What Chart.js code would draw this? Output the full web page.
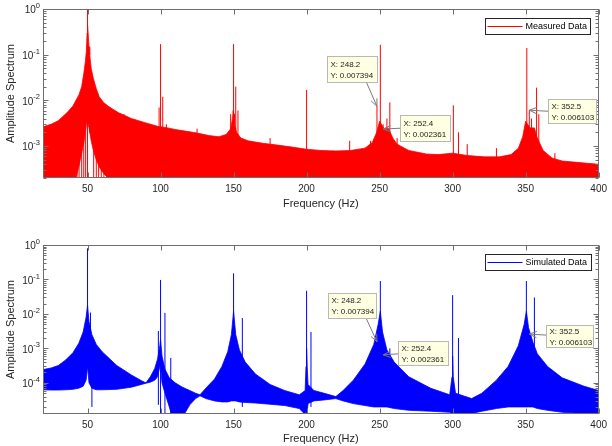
<!DOCTYPE html>
<html>
<head>
<meta charset="utf-8">
<script src="https://cdn.jsdelivr.net/npm/chart.js@4.4.1/dist/chart.umd.min.js"></script>
<style>
  html, body { margin: 0; padding: 0; background: #fff; }
  #wrap { position: relative; width: 612px; height: 446px; }
  canvas { position: absolute; left: 0; }
</style>
</head>
<body>
<div id="wrap">
  <canvas id="measured" width="612" height="223" style="top:0"></canvas>
  <canvas id="simulated" width="612" height="223" style="top:223px"></canvas>
</div>
<script>
/* ---------- axes ---------- */
const xTicks = [50, 100, 150, 200, 250, 300, 350, 400];
const yTicksMeasured = [1e-3, 1e-2, 1e-1, 1];
const yTicksSimulated = [1e-4, 1e-3, 1e-2, 1e-1, 1];

/* ---------- measured data: envelope of the dense spectrum ---------- */
const measFreq = [19, 25, 30, 36, 40, 42, 44, 45, 46, 47.5, 48.5, 49.2, 49.7, 50, 50.4, 51, 51.5, 52.5, 54, 56, 58, 61, 64, 68, 71, 76, 80, 85, 90, 98, 105, 110, 118, 126, 133, 140, 145, 148, 149.3, 149.7, 150.3, 150.7, 152, 155, 160, 170, 180, 190, 200, 210, 220, 230, 240, 245, 248, 250, 253, 256, 259, 262, 270, 282, 290, 300, 310, 322, 332, 340, 345, 348, 350, 353, 356, 358, 362, 368, 375, 385, 392, 400];
const measHigh = [2.6e-3, 3e-3, 3.6e-3, 5.4e-3, 7.5e-3, 1e-2, 1.3e-2, 1.6e-2, 2e-2, 4e-2, 7e-2, 0.12, 0.3, 0.45, 0.3, 0.15, 0.1, 5e-2, 3e-2, 1.8e-2, 1.2e-2, 9e-3, 7.5e-3, 6.2e-3, 5.4e-3, 4.6e-3, 4e-3, 3.6e-3, 3.2e-3, 2.7e-3, 2.5e-3, 2.3e-3, 2.1e-3, 1.9e-3, 1.7e-3, 1.6e-3, 1.8e-3, 2.4e-3, 4e-3, 6e-3, 5e-3, 3e-3, 2e-3, 1.5e-3, 1.3e-3, 1.15e-3, 1.05e-3, 9.5e-4, 8.5e-4, 8e-4, 7.8e-4, 8e-4, 9e-4, 1.2e-3, 2e-3, 3.5e-3, 2.4e-3, 2.5e-3, 1.5e-3, 1.1e-3, 8e-4, 6.7e-4, 6.5e-4, 7e-4, 6.2e-4, 5.8e-4, 5.8e-4, 6.5e-4, 9e-4, 1.6e-3, 3.5e-3, 2.5e-3, 2.5e-3, 1.5e-3, 8e-4, 5.5e-4, 4.7e-4, 4.4e-4, 4.2e-4, 4e-4];
const measLow = [1e-6, 1e-6, 1e-6, 1e-6, 1e-6, 2e-4, 3.5e-4, 5e-4, 7e-4, 1.2e-3, 2e-3, 3e-3, 3.5e-3, 3e-3, 3e-3, 2.5e-3, 2e-3, 1.3e-3, 8e-4, 5e-4, 3.5e-4, 2.5e-4, 2e-4, 1e-6, 1e-6, 1e-6, 1e-6, 1e-6, 1e-6, 1e-6, 1e-6, 1e-6, 1e-6, 1e-6, 1e-6, 1e-6, 1e-6, 1e-6, 1e-6, 1e-6, 1e-6, 1e-6, 1e-6, 1e-6, 1e-6, 1e-6, 1e-6, 1e-6, 1e-6, 1e-6, 1e-6, 1e-6, 1e-6, 1e-6, 1e-6, 1e-6, 1e-6, 1e-6, 1e-6, 1e-6, 1e-6, 1e-6, 1e-6, 1e-6, 1e-6, 1e-6, 1e-6, 1e-6, 1e-6, 1e-6, 1e-6, 1e-6, 1e-6, 1e-6, 1e-6, 1e-6, 1e-6, 1e-6, 1e-6, 1e-6];
// spectral lines; the first twelve are the thin strands that cross the gap under the 50 Hz peak
const measSpikeFreq = [42.8, 44.2, 46, 47.4, 48.7, 54.2, 56, 57.6, 59.4, 61.2, 63.2, 65.7, 50, 75, 99, 100, 101.5, 104, 125, 148, 150, 151.5, 153, 175, 200, 229.5, 243.8, 248.2, 250.5, 252.4, 255, 257, 262, 300.5, 304, 310, 330, 350.8, 352.5, 354, 357.5, 359, 370];
const measSpikeAmp = [2e-3, 2e-3, 2e-3, 3e-3, 3e-3, 2e-3, 2e-3, 2e-3, 2e-3, 2e-3, 2e-3, 2e-3, 1.0, 5e-3, 7e-3, 0.17, 0.012, 3e-3, 2.4e-3, 5e-3, 0.17, 0.02, 6e-3, 1.5e-3, 0.017, 1.3e-3, 1.3e-3, 7.4e-3, 0.165, 3e-3, 4e-3, 9e-3, 1.5e-3, 7.8e-3, 2e-3, 1.1e-3, 9e-4, 0.14, 6.1e-3, 4e-3, 0.019, 5e-3, 7e-4];

/* ---------- simulated data ---------- */
const simFreq = [19, 25, 30, 35, 40, 44, 47, 49, 50, 51, 53, 56, 60, 70, 80, 87, 90, 93, 96, 98, 99.5, 100, 101, 103, 106, 110, 115, 120, 124, 127, 131, 137, 142, 146, 148.5, 150, 151.5, 154, 158, 165, 175, 185, 195, 199, 199.6, 200, 200.4, 201, 205, 212, 220, 225, 232, 240, 246, 249, 250.5, 252, 255, 260, 270, 285, 298, 299.6, 300, 300.4, 302, 313, 320, 330, 338, 345, 349, 350.5, 352, 355, 358, 365, 375, 390, 400];
const simHigh = [2.4e-4, 2.7e-4, 3.2e-4, 4.6e-4, 7.5e-4, 1.4e-3, 3e-3, 8e-3, 1.8e-2, 6e-3, 2.5e-3, 1.3e-3, 8e-4, 3.2e-4, 1.7e-4, 1.15e-4, 1e-4, 1.5e-4, 2.6e-4, 5e-4, 1.2e-3, 1.8e-3, 6e-4, 2.5e-4, 1.4e-4, 1e-4, 7.5e-5, 6e-5, 5e-5, 4.5e-5, 7e-5, 1.3e-4, 3e-4, 8e-4, 2.5e-3, 1.2e-2, 2.5e-3, 9e-4, 4e-4, 1.8e-4, 9e-5, 6e-5, 4.5e-5, 6e-5, 3e-4, 1e-3, 3e-4, 9e-5, 6e-5, 5e-5, 4e-5, 6e-5, 1.2e-4, 3.5e-4, 1.3e-3, 5e-3, 1.2e-2, 3e-3, 9e-4, 4e-4, 1.5e-4, 7e-5, 4.5e-5, 1.5e-4, 6e-4, 1.5e-4, 5e-5, 3.5e-5, 5e-5, 1.2e-4, 3e-4, 1.2e-3, 5e-3, 1.2e-2, 4e-3, 1.5e-3, 7e-4, 3e-4, 1.4e-4, 8e-5, 6e-5];
const simLow = [6.3e-5, 6.2e-5, 6.2e-5, 6.3e-5, 6.5e-5, 7e-5, 8e-5, 1.2e-4, 3e-4, 1e-4, 7e-5, 6.3e-5, 6.3e-5, 6.5e-5, 7.5e-5, 9e-5, 9.8e-5, 1.05e-4, 1.2e-4, 1.5e-4, 3e-4, 3e-4, 1e-4, 5e-5, 2e-5, 5e-6, 1e-5, 2.3e-5, 3.5e-5, 4.2e-5, 3.5e-5, 3e-5, 2.8e-5, 2.8e-5, 3e-5, 3e-5, 3e-5, 2.8e-5, 2.7e-5, 2.6e-5, 2.4e-5, 2.2e-5, 1.8e-5, 1.2e-5, 1.5e-5, 2e-5, 1.5e-5, 2.5e-5, 3e-5, 3.2e-5, 3.5e-5, 3e-5, 2.5e-5, 2.2e-5, 2e-5, 2e-5, 2e-5, 2e-5, 2e-5, 1.8e-5, 1.6e-5, 1.5e-5, 1.4e-5, 1.3e-5, 1.5e-5, 1.3e-5, 1.3e-5, 1.3e-5, 1.5e-5, 1.8e-5, 2e-5, 2e-5, 2e-5, 2e-5, 2e-5, 2e-5, 1.8e-5, 1.6e-5, 1.4e-5, 1.3e-5, 1.3e-5];
const simSpikeFreq = [50, 52, 53, 98.5, 100, 103, 107, 150, 156, 200, 203, 250.5, 257, 300, 304, 350.5, 356];
const simSpikeLow = [3e-4, 1e-4, 2e-5, 2.3e-5, 1e-6, 1e-6, 1e-6, 3e-5, 2e-5, 1e-5, 2e-5, 2e-5, 2e-5, 1.3e-5, 1.5e-5, 2e-5, 2e-5];
const simSpikeHigh = [0.8, 0.011, 1e-4, 3.2e-3, 0.097, 0.0107, 5.3e-4, 0.15, 7.6e-3, 0.047, 3e-3, 0.09, 1e-3, 0.035, 2e-3, 0.09, 0.03];

/* ---------- data tips ---------- */
const tipFreq = [248.2, 252.4, 352.5];
const tipValue = [0.007394, 0.002361, 0.006103];
const simTipValue = [1.55e-3, 6.5e-4, 2.6e-3];

const FONT = '"Liberation Sans", Arial, Helvetica, sans-serif';
const TEXT = '#262626';

Chart.defaults.font.family = FONT;
Chart.defaults.color = TEXT;

const pts = (xs, ys) => xs.map((x, i) => ({ x: x, y: ys[i] }));
const spikes = (xs, lo, hi) => xs.flatMap((x, i) => [{ x: x, y: lo[i] }, { x: x, y: hi[i] }, { x: x, y: null }]);

/* ---------- MATLAB-ish box, ticks, 10^n labels, legend, data tips ---------- */
const matlabLook = {
  id: 'matlab',
  afterDatasetsDraw(chart, args, opts) {
    const { ctx, chartArea: a, scales: { x, y } } = chart;
    const L = Math.round(a.left) + 0.5, R = Math.round(a.right) - 0.5;
    const T = Math.round(a.top) + 0.5, B = Math.round(a.bottom) - 0.5;
    ctx.save();
    ctx.lineWidth = 1;
    ctx.strokeStyle = '#6e6e6e';
    ctx.beginPath();
    xTicks.forEach(v => {
      const p = Math.round(x.getPixelForValue(v)) + 0.5;
      ctx.moveTo(p, B); ctx.lineTo(p, B - 5);
      ctx.moveTo(p, T); ctx.lineTo(p, T + 5);
    });
    for (let e = Math.floor(Math.log10(y.min)); e <= 0; e++) {
      for (let m = 1; m < 10; m++) {
        const v = m * Math.pow(10, e);
        if (v < y.min || v > y.max) continue;
        const p = Math.round(y.getPixelForValue(v)) + 0.5;
        const len = m === 1 ? 5 : 3;
        ctx.moveTo(L, p); ctx.lineTo(L + len, p);
        ctx.moveTo(R, p); ctx.lineTo(R - len, p);
      }
    }
    ctx.stroke();
    ctx.strokeRect(L, T, R - L, B - T);

    // y tick labels as 10 with a raised exponent
    ctx.fillStyle = TEXT;
    ctx.textBaseline = 'middle';
    ctx.textAlign = 'right';
    opts.yTicks.forEach(v => {
      const p = y.getPixelForValue(v) + 1.5;
      const ex = String(Math.round(Math.log10(v)));
      ctx.font = '7.5px ' + FONT;
      const w = ctx.measureText(ex).width;
      ctx.fillText(ex, a.left - 3, p - 4.5);
      ctx.font = '10px ' + FONT;
      ctx.fillText('10', a.left - 3 - w, p);
    });

    // legend
    const lg = opts.legend;
    const lx = Math.round(a.right) - 114 + 0.5, ly = Math.round(a.top) + 9 + 0.5;
    ctx.textAlign = 'left';
    ctx.fillStyle = '#fff';
    ctx.fillRect(lx, ly, lg.w, 16);
    ctx.strokeStyle = '#262626';
    ctx.strokeRect(lx, ly, lg.w, 16);
    ctx.strokeStyle = lg.color;
    ctx.beginPath(); ctx.moveTo(lx + 2, ly + 8); ctx.lineTo(lx + 37, ly + 8); ctx.stroke();
    ctx.fillStyle = '#000';
    ctx.font = '9px ' + FONT;
    ctx.fillText(lg.text, lx + 40, ly + 8.5);

    // data tips
    opts.tips.forEach(t => {
      const px = x.getPixelForValue(t.f), py = y.getPixelForValue(t.v);
      const sx = px + t.from[0], sy = py + t.from[1];
      ctx.strokeStyle = '#7a7a7a';
      ctx.beginPath();
      ctx.moveTo(sx, sy); ctx.lineTo(px, py);
      const ang = Math.atan2(sy - py, sx - px);
      [0.4, -0.4].forEach(d => {
        ctx.moveTo(px, py);
        ctx.lineTo(px + 8 * Math.cos(ang + d), py + 8 * Math.sin(ang + d));
      });
      ctx.stroke();
      const bx = Math.round(px + t.box[0]) + 0.5, by = Math.round(py + t.box[1]) + 0.5;
      ctx.fillStyle = '#ffffe1';
      ctx.fillRect(bx, by, t.box[2], t.box[3]);
      ctx.strokeStyle = '#b8b8b8';
      ctx.strokeRect(bx, by, t.box[2], t.box[3]);
      ctx.fillStyle = '#1a1a1a';
      ctx.font = '8px ' + FONT;
      ctx.fillText(t.text[0], bx + 3, by + t.box[3] / 2 - 5);
      ctx.fillText(t.text[1], bx + 3, by + t.box[3] / 2 + 6);
    });
    ctx.restore();
  }
};

function makeTips(values, layout) {
  return tipFreq.map((f, i) => ({
    f: f, v: values[i],
    text: ['X: ' + f, 'Y: ' + tipValue[i]],
    box: layout[i].box, from: layout[i].from
  }));
}

function makeChart(id, c) {
  return new Chart(document.getElementById(id), {
    type: 'line',
    data: {
      datasets: [
        { data: pts(c.freq, c.high), fill: '+1', borderColor: c.color, backgroundColor: c.color, borderWidth: 0.8, pointRadius: 0, tension: 0 },
        { data: pts(c.freq, c.low), fill: false, borderColor: c.color, borderWidth: 0.8, pointRadius: 0, tension: 0 },
        { data: c.spikes, fill: false, borderColor: c.color, borderWidth: 1, pointRadius: 0, spanGaps: false }
      ]
    },
    options: {
      responsive: false,
      animation: false,
      events: [],
      layout: { padding: { top: c.padTop, right: 9, left: 0, bottom: 0 } },
      plugins: {
        legend: { display: false },
        tooltip: { enabled: false },
        matlab: { legend: c.legend, tips: c.tips, yTicks: c.yTicks }
      },
      scales: {
        x: {
          type: 'linear', min: 19.5, max: 400,
          grid: { display: false, drawTicks: false },
          border: { display: false },
          afterBuildTicks: s => { s.ticks = xTicks.map(v => ({ value: v })); },
          afterFit: s => { s.height = c.xHeight; },
          ticks: { padding: 5, font: { size: 10 }, color: TEXT, maxRotation: 0, autoSkip: false },
          title: { display: true, text: 'Frequency (Hz)', font: { size: 11 }, color: TEXT, padding: { top: 0, bottom: c.xTitlePad } }
        },
        y: {
          type: 'logarithmic', min: c.yMin, max: 1,
          grid: { display: false, drawTicks: false },
          border: { display: false },
          afterFit: s => { s.width = 43; },
          ticks: { display: false },
          title: { display: true, text: 'Amplitude Spectrum', font: { size: 11 }, color: TEXT, padding: { top: 4.4, bottom: 0 } }
        }
      }
    },
    plugins: [matlabLook]
  });
}

makeChart('measured', {
  color: '#ff0000',
  freq: measFreq, high: measHigh, low: measLow,
  spikes: spikes(measSpikeFreq, measSpikeFreq.map(() => 1e-6), measSpikeAmp),
  yMin: 2e-4, yTicks: yTicksMeasured,
  padTop: 9, xHeight: 45, xTitlePad: 12.4,
  legend: { text: 'Measured Data', color: '#ff0000', w: 105 },
  tips: makeTips(tipValue, [
    { box: [-49.5, -50, 50, 26], from: [-10.5, -24] },
    { box: [17.3, -13.8, 50, 26], from: [17.3, -0.8] },
    { box: [19, -10.9, 48, 24], from: [19, 1.1] }
  ])
});

makeChart('simulated', {
  color: '#0000ff',
  freq: simFreq, high: simHigh, low: simLow,
  spikes: spikes(simSpikeFreq, simSpikeLow, simSpikeHigh),
  yMin: 1.25e-5, yTicks: yTicksSimulated,
  padTop: 22, xHeight: 32, xTitlePad: 0,
  legend: { text: 'Simulated Data', color: '#0000ff', w: 106 },
  tips: makeTips(simTipValue, [
    { box: [-49, -49, 48, 25], from: [-11, -24] },
    { box: [15, -14, 50, 24], from: [15, -1] },
    { box: [17, -9, 47, 22], from: [17, 1] }
  ])
});
</script>
</body>
</html>
